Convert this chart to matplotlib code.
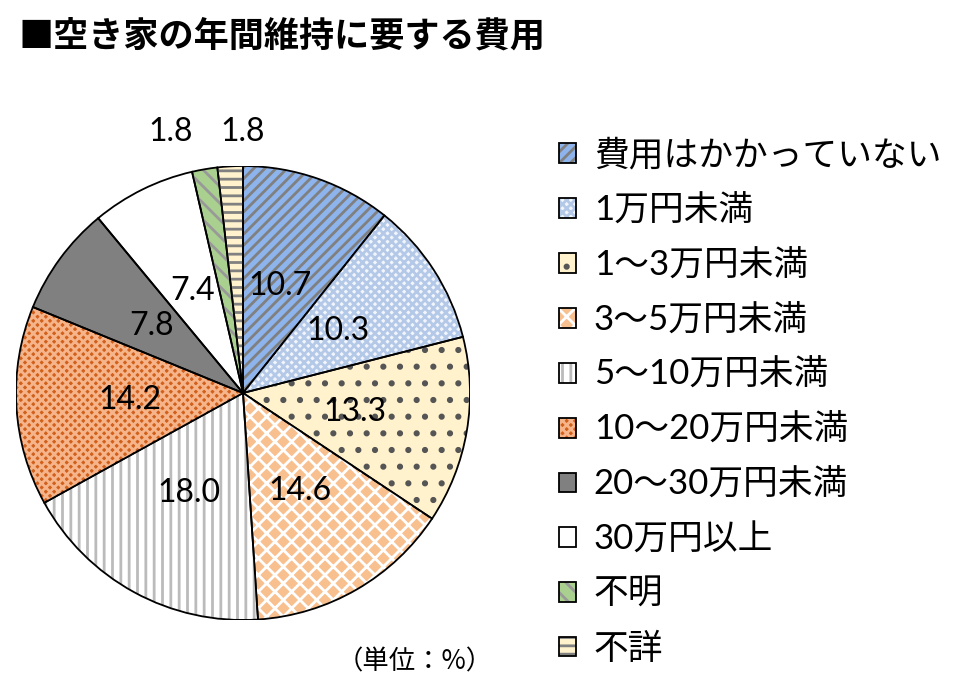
import numpy as np
import matplotlib.pyplot as plt
from matplotlib.patches import Wedge, Patch
from matplotlib.legend_handler import HandlerTuple

plt.rcParams['font.family'] = ['Lato', 'Noto Sans CJK JP', 'DejaVu Sans']
plt.rcParams['hatch.linewidth'] = 2.0

# データ（単位：%）
labels = ['費用はかかっていない', '1万円未満', '1〜3万円未満', '3〜5万円未満', '5〜10万円未満',
          '10〜20万円未満', '20〜30万円未満', '30万円以上', '不明', '不詳']
values = [10.7, 10.3, 13.3, 14.6, 18.0, 14.2, 7.8, 7.4, 1.8, 1.8]

# 塗りとハッチ
faces = ['#8DB4EC', '#F2F6FC', '#FFF2CC', '#F9C08F', '#FFFFFF',
         '#D0601C', '#808080', '#FFFFFF', '#A9D08E', '#FFF2CC']
hatches = ['///', 'xxxx', '.', 'xx', '||', 'xxxx', None, None, '\\\\', '--']
hatch_cols = ['#808080', '#B4C8E8', '#555555', '#FFFFFF', '#BBBBBB',
              '#F6B48A', None, None, '#999999', '#808080']

fig = plt.figure(figsize=(9.72, 7.0), dpi=100)
ax = fig.add_axes([16/972, 80/700, 454/972, 454/700])

wedges, _ = ax.pie(values, colors=faces, startangle=90, counterclock=False,
                   radius=1, wedgeprops=dict(edgecolor='none', linewidth=0))

handles = []
for w, f, h, hc in zip(wedges, faces, hatches, hatch_cols):
    parts = [Patch(facecolor=f, edgecolor='none')]
    if h:
        ax.add_patch(Wedge(w.center, w.r, w.theta1, w.theta2, facecolor='none',
                           edgecolor=hc, hatch=h, linewidth=0))
        parts.append(Patch(facecolor='none', edgecolor=hc, hatch=h, linewidth=0))
    ax.add_patch(Wedge(w.center, w.r, w.theta1, w.theta2, facecolor='none',
                       edgecolor='black', linewidth=1.3))
    parts.append(Patch(facecolor='none', edgecolor='black', linewidth=1.3))
    handles.append(tuple(parts))

# 値ラベル
for i, (w, v) in enumerate(zip(wedges, values)):
    ang = np.deg2rad((w.theta1 + w.theta2) / 2)
    if v < 3:
        dx = -0.32 if i == 8 else 0.0
        x, y = dx, 1.15
    else:
        x, y = 0.5 * np.cos(ang), 0.5 * np.sin(ang)
    ax.text(x, y, f'{v:.1f}', ha='center', va='center', fontsize=23, clip_on=False)

ax.set_xlim(-1, 1)
ax.set_ylim(-1, 1)
ax.set_aspect('equal')
ax.axis('off')

fig.legend(handles, labels, loc='upper left', bbox_to_anchor=(559/972, 1 - 139/700),
           frameon=False, fontsize=25, handlelength=0.5, handleheight=0.5,
           handletextpad=0.5, labelspacing=0.65, borderpad=0, borderaxespad=0,
           handler_map={tuple: HandlerTuple(ndivide=1)})

fig.text(18/972, 1 - 36/700, '■空き家の年間維持に要する費用', fontsize=25.3, fontweight='bold',
         ha='left', va='center', family=['Noto Sans CJK JP'])
fig.text(415/972, 1 - 662/700, '（単位：%）', fontsize=19, ha='center', va='center',
         family=['Noto Sans CJK JP'])

fig.savefig('out.png', dpi=100)
